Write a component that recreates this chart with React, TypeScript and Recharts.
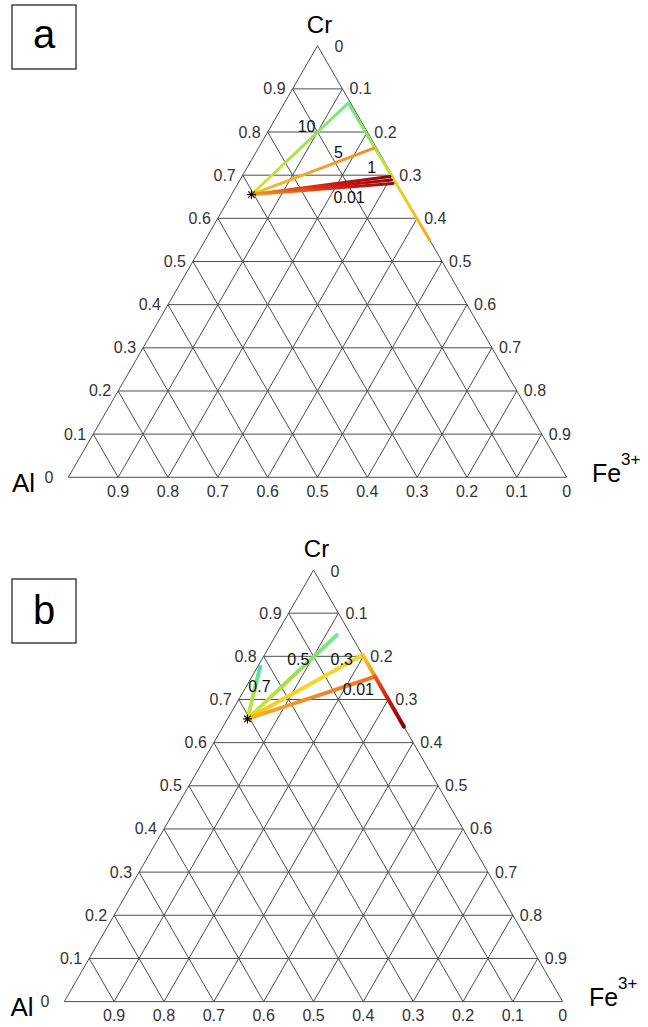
import React from "react";
import { ComposedChart, XAxis, YAxis, Line, Scatter, ReferenceLine } from "recharts";

// tick values on each side of the triangle (0 .. 0.9, the 1.0 corner is unlabeled)
const TICKS = [0, 0.1, 0.2, 0.3, 0.4, 0.5, 0.6, 0.7, 0.8, 0.9];
const TICK_TEXT = ["0", "0.1", "0.2", "0.3", "0.4", "0.5", "0.6", "0.7", "0.8", "0.9"];
const GRID = [0.1, 0.2, 0.3, 0.4, 0.5, 0.6, 0.7, 0.8, 0.9];

// compositions as [Cr, Fe3+] fractions, Al = 1 - Cr - Fe
type Comp = [number, number];
const START: Comp = [0.655, 0.04];

// panel a
const A_PATHS: Comp[][] = [
  [START, [0.867, 0.128], [0.55, 0.45]],
  [START, [0.762, 0.231]],
  [START, [0.697, 0.297]],
  [START, [0.689, 0.304]],
  [START, [0.681, 0.311]],
];
const A_LABELS = ["10", "5", "1", "0.01"];
const A_LABEL_AT: Comp[] = [[0.812, 0.072], [0.752, 0.166], [0.718, 0.25], [0.649, 0.239]];

// panel b
const B_PATHS: Comp[][] = [
  [START, [0.776, 0.005]],
  [START, [0.849, 0.122]],
  [START, [0.803, 0.197], [0.753, 0.247]],
  [START, [0.753, 0.247], [0.637, 0.363]],
];
const B_LABELS = ["0.7", "0.5", "0.3", "0.01"];
const B_LABEL_AT: Comp[] = [[0.731, 0.026], [0.793, 0.073], [0.793, 0.16], [0.722, 0.229]];

// colour stops for every segment of every path
const A_COLORS: string[][][] = [
  [["#e2e02c", "#a8e14a", "#72e88c"], ["#72e88c", "#96e45e", "#d0de34", "#efca22", "#f3a424"]],
  [["#f2c424", "#f2a42a", "#f08e22"]],
  [["#f09a22", "#e04818", "#c01010", "#860808"]],
  [["#f0a022", "#e25418", "#c81412", "#900a0a"]],
  [["#f0a422", "#e65a1a", "#cc1a12", "#960c0c"]],
];
const B_COLORS: string[][][] = [
  [["#e2e02c", "#9ee056", "#48dcc4"]],
  [["#e0e02c", "#a0e050", "#6ee892"]],
  [["#f4c822", "#f6d424", "#f8d22a"], ["#f8c424", "#f49022"]],
  [["#f2b424", "#f08a24", "#ee7422"], ["#e85a18", "#c81414", "#7e0606"]],
];

const FONT = "'Liberation Sans', Arial, sans-serif";
const GRID_COLOR = "#4d4d4d";

const uv = (c: Comp) => ({ u: c[1] + c[0] / 2, v: c[0] });

type Seg = { x: number; y: number }[];
const gridSegments: Seg[] = [
  [{ x: 0, y: 0 }, { x: 1, y: 0 }],
  [{ x: 0, y: 0 }, { x: 0.5, y: 1 }],
  [{ x: 1, y: 0 }, { x: 0.5, y: 1 }],
  ...GRID.map((k) => [{ x: k / 2, y: k }, { x: 1 - k / 2, y: k }]),
  ...GRID.map((k) => [{ x: k, y: 0 }, { x: (1 + k) / 2, y: 1 - k }]),
  ...GRID.map((k) => [{ x: 1 - k, y: 0 }, { x: (1 - k) / 2, y: 1 - k }]),
];

const tickData = [
  ...TICKS.map((t, i) => ({ u: t / 2, v: t, text: TICK_TEXT[i], side: "left" })),
  ...TICKS.map((t, i) => ({ u: (1 + t) / 2, v: 1 - t, text: TICK_TEXT[i], side: "right" })),
  ...TICKS.map((t, i) => ({ u: 1 - t, v: 0, text: TICK_TEXT[i], side: "bottom" })),
];

const tickShape = (p: any) => {
  const { cx, cy, payload } = p;
  let x = cx;
  let y = cy + 5.5;
  let anchor: "start" | "middle" | "end" = "middle";
  if (payload.side === "left") {
    x = cx - (payload.text === "0" ? 15 : 7);
    anchor = "end";
  } else if (payload.side === "right") {
    x = cx + (payload.text === "0" ? 17 : 7);
    y = cy + (payload.text === "0" ? 6.5 : 5.5);
    anchor = "start";
  } else {
    y = cy + 19.5;
  }
  return (
    <text x={x} y={y} textAnchor={anchor} fontFamily={FONT} fontSize={16} fill="#333">
      {payload.text}
    </text>
  );
};

const labelShape = (p: any) => (
  <text x={p.cx} y={p.cy + 5.5} textAnchor="middle" fontFamily={FONT} fontSize={16} fill="#111">
    {p.payload.text}
  </text>
);

const starShape = (p: any) => {
  const { cx, cy } = p;
  const r = 4.5;
  const d = 3.2;
  return (
    <g stroke="#000" strokeWidth={1.1}>
      <line x1={cx - r} y1={cy} x2={cx + r} y2={cy} />
      <line x1={cx} y1={cy - r} x2={cx} y2={cy + r} />
      <line x1={cx - d} y1={cy - d} x2={cx + d} y2={cy + d} />
      <line x1={cx - d} y1={cy + d} x2={cx + d} y2={cy - d} />
    </g>
  );
};

interface PanelProps {
  id: string;
  paths: Comp[][];
  colors: string[][][];
  labels: string[];
  labelAt: Comp[];
  lineWidth: number;
  height: number;
  margin: { top: number; right: number; bottom: number; left: number };
}

function Ternary({ id, paths, colors, labels, labelAt, lineWidth, height, margin }: PanelProps) {
  const segs = paths.flatMap((pts, i) =>
    pts.slice(1).map((end, j) => {
      const a = uv(pts[j]);
      const b = uv(end);
      const x1 = b.u >= a.u ? 0 : 1;
      const y1 = b.v <= a.v ? 0 : 1;
      return { gid: `${id}-g${i}-${j}`, data: [a, b], stops: colors[i][j], x1, y1 };
    })
  );
  const labelData = labels.map((text, i) => ({ ...uv(labelAt[i]), text }));

  return (
    <ComposedChart width={648} height={height} margin={margin}>
      <defs>
        {segs.map((s) => (
          <linearGradient key={s.gid} id={s.gid} x1={s.x1} y1={s.y1} x2={1 - s.x1} y2={1 - s.y1}>
            {s.stops.map((c, k) => (
              <stop key={k} offset={k / (s.stops.length - 1)} stopColor={c} />
            ))}
          </linearGradient>
        ))}
      </defs>
      <XAxis type="number" dataKey="u" domain={[0, 1]} hide />
      <YAxis type="number" dataKey="v" domain={[0, 1]} hide />
      {gridSegments.map((sg, i) => (
        <ReferenceLine key={i} segment={sg} stroke={GRID_COLOR} strokeWidth={1} ifOverflow="visible" />
      ))}
      {segs.map((s) => (
        <Line
          key={s.gid}
          data={s.data}
          dataKey="v"
          type="linear"
          stroke={`url(#${s.gid})`}
          strokeWidth={lineWidth}
          strokeLinecap="round"
          dot={false}
          activeDot={false}
          isAnimationActive={false}
        />
      ))}
      <Scatter data={tickData} shape={tickShape} isAnimationActive={false} />
      <Scatter data={labelData} shape={labelShape} isAnimationActive={false} />
      <Scatter data={[uv(START)]} shape={starShape} isAnimationActive={false} />
    </ComposedChart>
  );
}

function PanelTitle({ letter, top, dx, dy }: { letter: string; top: number; dx: number; dy: number }) {
  return (
    <g fontFamily={FONT} fill="#000">
      <rect x={12} y={top} width={64} height={64} fill="#fff" stroke="#444" strokeWidth={1.5} />
      <text x={44} y={top + (letter === "a" ? 42.5 : 45)} textAnchor="middle" fontSize={40}>
        {letter}
      </text>
      <text x={319.5 + dx} y={32.7 + dy} textAnchor="middle" fontSize={24}>Cr</text>
      <text x={12 + dx * 0.5} y={492 + dy} fontSize={26}>Al</text>
      <text x={592 + dx} y={482 + dy} fontSize={25}>Fe</text>
      <text x={621 + dx} y={465 + dy} fontSize={17}>3+</text>
    </g>
  );
}

export default function App() {
  return (
    <div style={{ position: "absolute", left: 0, top: 0, width: 648, height: 1027, background: "#fff" }}>
      <div style={{ position: "absolute", left: 0, top: 0 }}>
        <Ternary
          id="a"
          paths={A_PATHS}
          colors={A_COLORS}
          labels={A_LABELS}
          labelAt={A_LABEL_AT}
          lineWidth={3}
          height={510}
          margin={{ top: 45.7, right: 81.3, bottom: 32.7, left: 68.3 }}
        />
      </div>
      <div style={{ position: "absolute", left: 0, top: 520 }}>
        <Ternary
          id="b"
          paths={B_PATHS}
          colors={B_COLORS}
          labels={B_LABELS}
          labelAt={B_LABEL_AT}
          lineWidth={4}
          height={507}
          margin={{ top: 50, right: 85.3, bottom: 25.4, left: 64.3 }}
        />
      </div>
      <svg
        width={648}
        height={1027}
        style={{ position: "absolute", left: 0, top: 0, pointerEvents: "none" }}
      >
        <PanelTitle letter="a" top={5} dx={0} dy={0} />
        <PanelTitle letter="b" top={579} dx={-3} dy={524.3} />
      </svg>
    </div>
  );
}
